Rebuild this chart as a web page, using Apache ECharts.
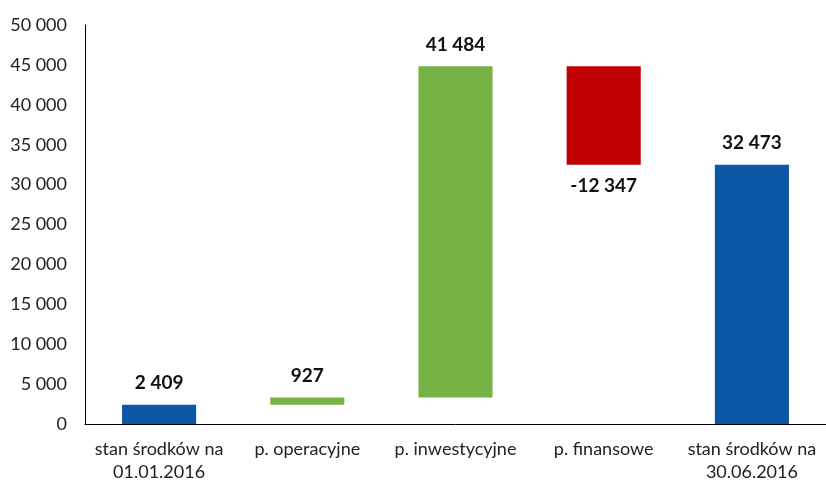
<!DOCTYPE html>
<html>
<head>
<meta charset="utf-8">
<script src="https://cdn.jsdelivr.net/npm/echarts@6/dist/echarts.min.js"></script>
<style>html,body{margin:0;padding:0;background:#fff}#c{width:826px;height:484px}</style>
</head>
<body>
<div id="c"></div>
<script>
var categories = ['stan środków na\n01.01.2016', 'p. operacyjne', 'p. inwestycyjne', 'p. finansowe', 'stan środków na\n30.06.2016'];
var changes = [2409, 927, 41484, -12347, 32473];
var isTotal = [true, false, false, false, true];
var colors = ['#0A58A6', '#77B244', '#77B244', '#C00000', '#0A58A6'];

function fmt(v) {
  var s = Math.abs(v).toString().replace(/\B(?=(\d{3})+(?!\d))/g, ' ');
  return (v < 0 ? '-' : '') + s;
}

var base = [], heights = [];
var running = 0;
for (var i = 0; i < changes.length; i++) {
  var v = changes[i];
  if (isTotal[i]) {
    base.push(0); heights.push(v); running = v;
  } else if (v >= 0) {
    base.push(running); heights.push(v); running += v;
  } else {
    running += v; base.push(running); heights.push(-v);
  }
}

var FONT = 'Lato, "Open Sans", sans-serif';
var chart = echarts.init(document.getElementById('c'));
chart.setOption({
  animation: false,
  grid: { left: 85, right: -6, top: 25, bottom: 58 },
  xAxis: {
    type: 'category',
    data: categories,
    axisLine: { lineStyle: { color: '#000', width: 1 } },
    axisTick: { show: false },
    axisLabel: { color: '#222', fontSize: 18, fontFamily: FONT, margin: 14, lineHeight: 23, interval: 0 }
  },
  yAxis: {
    type: 'value',
    min: 0, max: 50000, interval: 5000,
    axisLine: { show: true, lineStyle: { color: '#000', width: 1 } },
    axisTick: { show: false },
    splitLine: { show: false },
    axisLabel: { color: '#222', fontSize: 18, fontFamily: FONT, margin: 18, formatter: function (v) { return fmt(v); } }
  },
  series: [
    {
      type: 'bar', stack: 'w', data: base, barWidth: '50%',
      itemStyle: { color: 'transparent' }, silent: true
    },
    {
      type: 'bar', stack: 'w', barWidth: '50%',
      data: heights.map(function (h, i) {
        return {
          value: h,
          itemStyle: { color: colors[i] },
          label: {
            show: true,
            position: changes[i] < 0 ? 'bottom' : 'top',
            distance: 12,
            formatter: fmt(changes[i]),
            fontWeight: 'bold', fontSize: 19, color: '#111',
            fontFamily: FONT
          }
        };
      })
    }
  ]
});
</script>
</body>
</html>
